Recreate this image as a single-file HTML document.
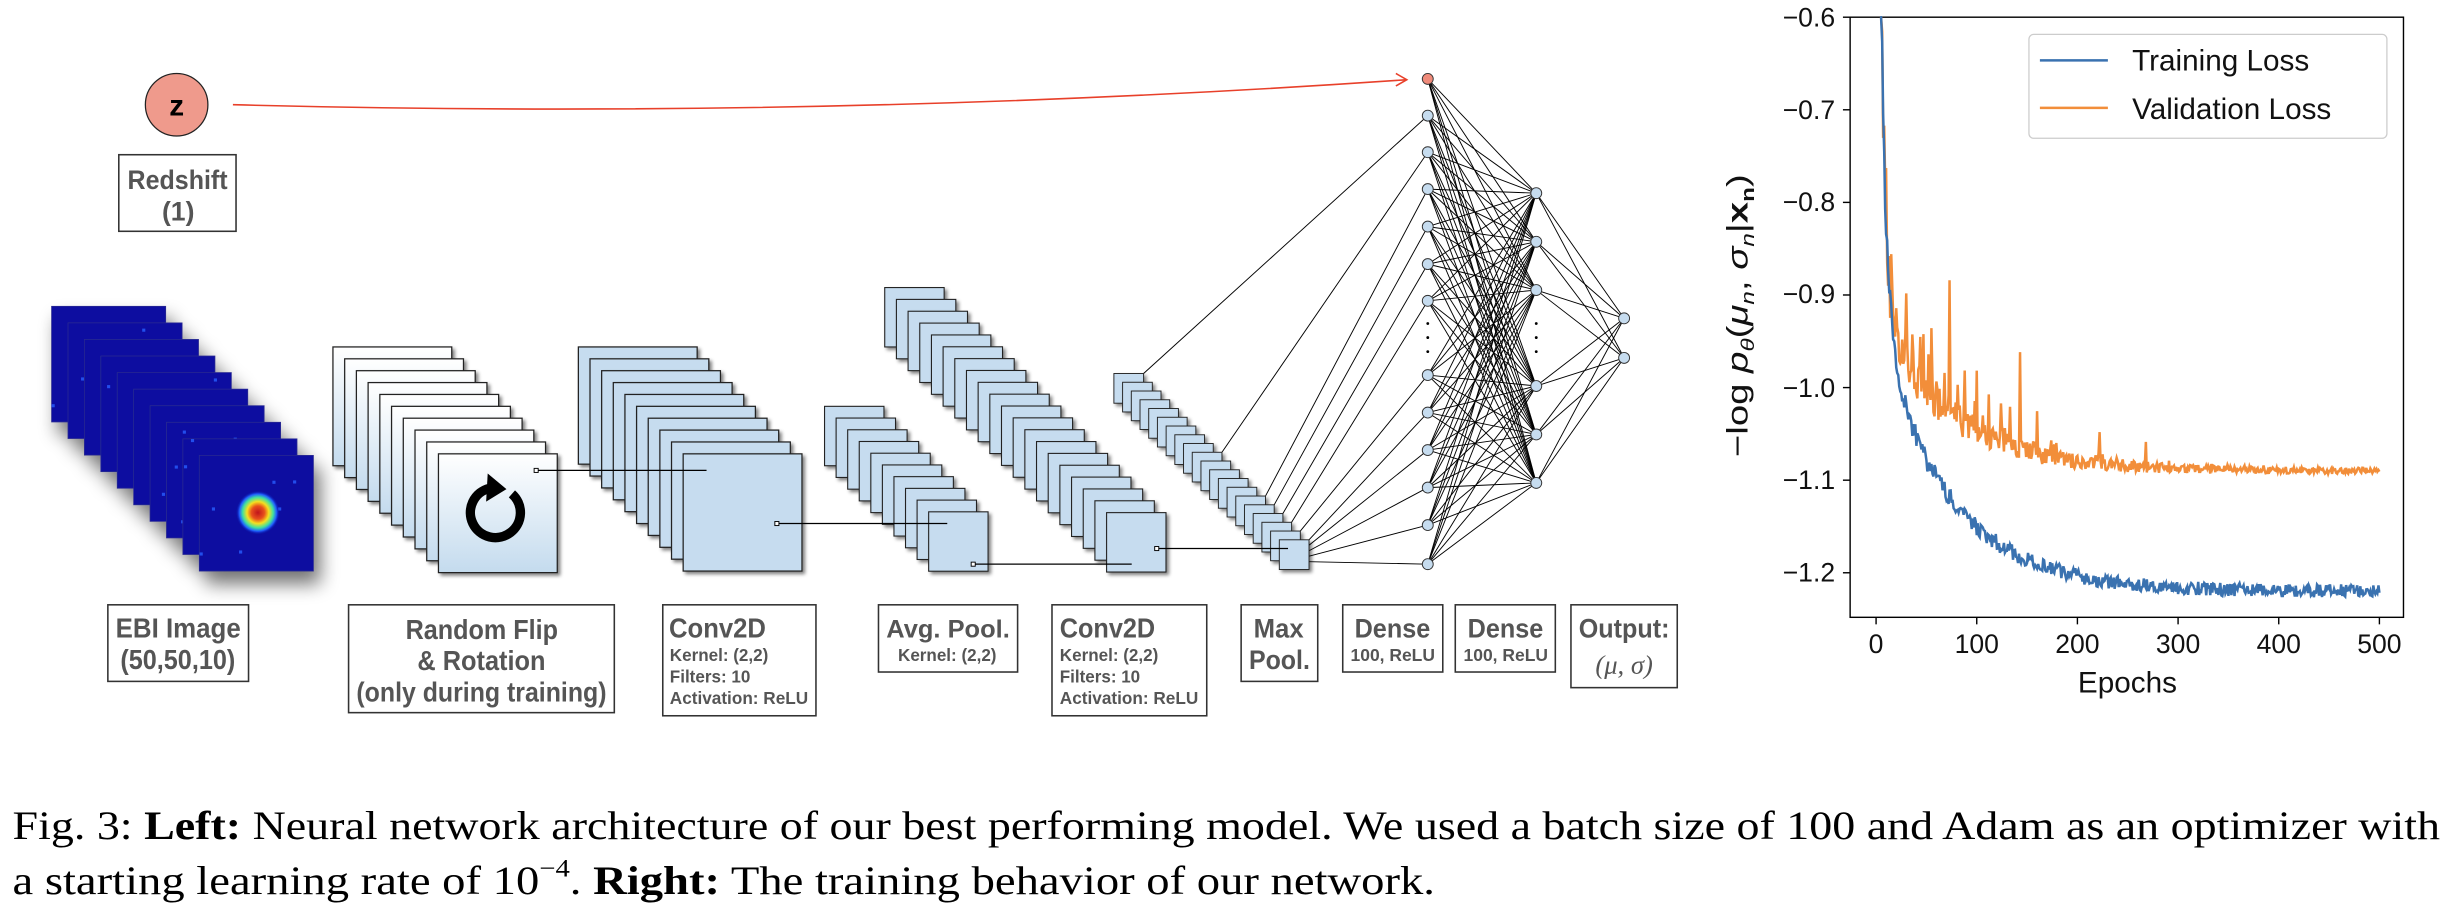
<!DOCTYPE html>
<html><head><meta charset="utf-8"><style>
html,body{margin:0;padding:0;background:#fff;}
svg{display:block;}
.lb{font-family:"Liberation Sans",sans-serif;font-weight:bold;fill:#555;}
.tk{font-family:"Liberation Sans","DejaVu Sans",sans-serif;fill:#111;font-size:17px;}
.cap{font-family:"Liberation Serif",serif;font-size:26px;fill:#000;}
</style></head><body>
<svg id="s" width="2451" height="908" viewBox="0 0 1568 581" preserveAspectRatio="none" xmlns="http://www.w3.org/2000/svg">
<defs>
<linearGradient id="wg" x1="0" y1="0" x2="0" y2="1"><stop offset="0" stop-color="#ffffff"/><stop offset="1" stop-color="#c4dbee"/></linearGradient>
<radialGradient id="blob" cx="0.5" cy="0.5" r="0.5"><stop offset="0" stop-color="#c0141a"/><stop offset="0.3" stop-color="#e8501c"/><stop offset="0.5" stop-color="#f5e020"/><stop offset="0.7" stop-color="#40e0a0"/><stop offset="0.85" stop-color="#2060ff"/><stop offset="1" stop-color="#0a12b0" stop-opacity="0"/></radialGradient>
<filter id="sh" x="-30%" y="-30%" width="170%" height="170%"><feGaussianBlur in="SourceAlpha" stdDeviation="6"/><feOffset dx="4" dy="8"/><feComponentTransfer><feFuncA type="linear" slope="0.55"/></feComponentTransfer><feMerge><feMergeNode/><feMergeNode in="SourceGraphic"/></feMerge></filter>
<filter id="sh2" x="-20%" y="-20%" width="150%" height="150%"><feGaussianBlur in="SourceAlpha" stdDeviation="1.2"/><feOffset dx="1.5" dy="1.5"/><feComponentTransfer><feFuncA type="linear" slope="0.5"/></feComponentTransfer><feMerge><feMergeNode/><feMergeNode in="SourceGraphic"/></feMerge></filter>
</defs>
<g id="net"></g>
<g id="stacks"></g>

<ellipse cx="113" cy="67" rx="20" ry="20" fill="#ef9a8c" stroke="#222" stroke-width="0.8"/>
<text x="113" y="74" text-anchor="middle" font-family="Liberation Sans,sans-serif" font-weight="bold" font-size="19">z</text>
<path d="M149,67 Q525,77 900,51" fill="none" stroke="#e8402a" stroke-width="1"/>
<path d="M893,47 L900,51 L893,55" fill="none" stroke="#e8402a" stroke-width="1"/>

<g fill="none" stroke="#333" stroke-width="1">
<rect x="76" y="99" width="75" height="49"/>
<rect x="69" y="387" width="90" height="49"/>
<rect x="223" y="387" width="170" height="69"/>
<rect x="424" y="387" width="98" height="71"/>
<rect x="562" y="387" width="89" height="43"/>
<rect x="673" y="387" width="99" height="71"/>
<rect x="794" y="387" width="49" height="49"/>
<rect x="859" y="387" width="64" height="43"/>
<rect x="931" y="387" width="64" height="43"/>
<rect x="1005" y="387" width="68" height="53"/>
</g>
<g class="lb">
<text x="81.6" y="121" font-size="17" textLength="64" lengthAdjust="spacingAndGlyphs">Redshift</text>
<text x="114" y="141" font-size="17" text-anchor="middle">(1)</text>
<text x="74" y="408" font-size="18" textLength="80" lengthAdjust="spacingAndGlyphs">EBI Image</text>
<text x="77" y="428" font-size="18" textLength="73.5" lengthAdjust="spacingAndGlyphs">(50,50,10)</text>
<text x="259.5" y="409" font-size="18" textLength="97.5" lengthAdjust="spacingAndGlyphs">Random Flip</text>
<text x="267" y="428.6" font-size="18" textLength="82" lengthAdjust="spacingAndGlyphs">&amp; Rotation</text>
<text x="228" y="449" font-size="18" textLength="160" lengthAdjust="spacingAndGlyphs">(only during training)</text>
<text x="428" y="408" font-size="18" textLength="62" lengthAdjust="spacingAndGlyphs">Conv2D</text>
<text x="428.5" y="423" font-size="11.5" textLength="63" lengthAdjust="spacingAndGlyphs">Kernel: (2,2)</text>
<text x="428.5" y="436.6" font-size="11.5" textLength="51.5" lengthAdjust="spacingAndGlyphs">Filters: 10</text>
<text x="428.5" y="450.5" font-size="11.5" textLength="88.5" lengthAdjust="spacingAndGlyphs">Activation: ReLU</text>
<text x="567" y="408" font-size="16" textLength="79" lengthAdjust="spacingAndGlyphs">Avg. Pool.</text>
<text x="574.5" y="423" font-size="11.5" textLength="63" lengthAdjust="spacingAndGlyphs">Kernel: (2,2)</text>
<text x="678" y="408" font-size="18" textLength="61" lengthAdjust="spacingAndGlyphs">Conv2D</text>
<text x="678" y="423" font-size="11.5" textLength="63" lengthAdjust="spacingAndGlyphs">Kernel: (2,2)</text>
<text x="678" y="436.6" font-size="11.5" textLength="51.4" lengthAdjust="spacingAndGlyphs">Filters: 10</text>
<text x="678" y="450.5" font-size="11.5" textLength="88.6" lengthAdjust="spacingAndGlyphs">Activation: ReLU</text>
<text x="802" y="408" font-size="17" textLength="32" lengthAdjust="spacingAndGlyphs">Max</text>
<text x="799" y="428" font-size="17" textLength="39" lengthAdjust="spacingAndGlyphs">Pool.</text>
<text x="866.6" y="408" font-size="17" textLength="48.4" lengthAdjust="spacingAndGlyphs">Dense</text>
<text x="864" y="423" font-size="11.5" textLength="54" lengthAdjust="spacingAndGlyphs">100, ReLU</text>
<text x="938.9" y="408" font-size="17" textLength="48.4" lengthAdjust="spacingAndGlyphs">Dense</text>
<text x="936.3" y="423" font-size="11.5" textLength="54" lengthAdjust="spacingAndGlyphs">100, ReLU</text>
<text x="1010" y="408" font-size="17" textLength="58" lengthAdjust="spacingAndGlyphs">Output:</text>
</g>
<text x="1039" y="431" text-anchor="middle" font-family="Liberation Serif,serif" font-style="italic" font-size="17" fill="#555">(μ, σ)</text>

<g id="plot">
<rect x="1183.6" y="11" width="354" height="384" fill="none" stroke="#000" stroke-width="0.9"/>
</g>
<g class="tk" text-anchor="end">
<text x="1174" y="17">−0.6</text>
<text x="1174" y="76">−0.7</text>
<text x="1174" y="135">−0.8</text>
<text x="1174" y="194">−0.9</text>
<text x="1174" y="254">−1.0</text>
<text x="1174" y="313">−1.1</text>
<text x="1174" y="372">−1.2</text>
</g>
<g class="tk" text-anchor="middle">
<text x="1200.2" y="418">0</text>
<text x="1264.6" y="418">100</text>
<text x="1329" y="418">200</text>
<text x="1393.4" y="418">300</text>
<text x="1457.8" y="418">400</text>
<text x="1522.2" y="418">500</text>
<text x="1361" y="443" font-size="19">Epochs</text>
</g>
<text transform="translate(1118,202) rotate(-90)" text-anchor="middle" font-family="Liberation Sans,DejaVu Sans,sans-serif" font-size="19" fill="#111" textLength="181" lengthAdjust="spacingAndGlyphs">−log <tspan font-style="italic">p</tspan><tspan font-style="italic" font-size="12" dy="4">θ</tspan><tspan dy="-4">(</tspan><tspan font-style="italic">μ</tspan><tspan font-style="italic" font-size="12" dy="4">n</tspan><tspan dy="-4">, </tspan><tspan font-style="italic">σ</tspan><tspan font-style="italic" font-size="12" dy="4">n</tspan><tspan dy="-4">|</tspan><tspan font-weight="bold">x</tspan><tspan font-weight="bold" font-size="12" dy="4">n</tspan><tspan dy="-4">)</tspan></text>
<rect x="1298" y="22" width="229" height="66.5" rx="3" fill="#fff" fill-opacity="0.85" stroke="#ccc" stroke-width="0.8"/>
<line x1="1305" y1="38.6" x2="1348.5" y2="38.6" stroke="#3a72b0" stroke-width="1.6"/>
<line x1="1305" y1="69" x2="1348.5" y2="69" stroke="#f28e3a" stroke-width="1.6"/>
<text x="1364" y="45" font-family="Liberation Sans,sans-serif" font-size="19" fill="#111">Training Loss</text>
<text x="1364" y="76" font-family="Liberation Sans,sans-serif" font-size="19" fill="#111">Validation Loss</text>

<text class="cap" x="8" y="537" textLength="1553" lengthAdjust="spacingAndGlyphs">Fig. 3: <tspan font-weight="bold">Left:</tspan> Neural network architecture of our best performing model. We used a batch size of 100 and Adam as an optimizer with</text>
<text class="cap" x="8" y="572" textLength="910" lengthAdjust="spacingAndGlyphs">a starting learning rate of 10<tspan font-size="16" dy="-11">−4</tspan><tspan dy="11">. </tspan><tspan font-weight="bold">Right:</tspan> The training behavior of our network.</text>
</svg>
<script>
(function(){
var NS="http://www.w3.org/2000/svg";
function el(p,t,a){var e=document.createElementNS(NS,t);for(var k in a)e.setAttribute(k,a[k]);p.appendChild(e);return e;}
var st=document.getElementById("stacks"), net=document.getElementById("net"), plot=document.getElementById("plot");
var seed=7;function rnd(){seed=(seed*16807)%2147483647;return seed/2147483647;}
var g=el(st,"g",{filter:"url(#sh)"});
for(var i=0;i<10;i++){var x=33+i*10.5,y=196+i*10.6;
 el(g,"rect",{x:x,y:y,width:73,height:74,fill:"#0a0fa0",stroke:"#2a2a90","stroke-width":0.5});
 for(var k=0;k<6;k++)el(g,"rect",{x:x+rnd()*68,y:y+rnd()*68,width:2,height:2,fill:"#2a5cff",opacity:0.8});
}
el(g,"circle",{cx:165,cy:328,r:14,fill:"url(#blob)"});
function stack(n,x0,y0,dx,dy,w,h,fill,sw){var gg=el(st,"g",{});
 for(var i=0;i<n;i++)el(gg,"rect",{x:x0+i*dx,y:y0+i*dy,width:w,height:h,fill:fill,stroke:"#222","stroke-width":sw,filter:"url(#sh2)"});}
stack(10,213,222,7.5,7.6,76,76,"url(#wg)",0.8);
stack(10,370,222,7.45,7.6,76,75,"#c6dcef",0.8);
stack(10,527.5,260,7.4,7.5,38,38,"#c6dcef",0.7);
stack(20,566,184,7.47,7.58,38,38,"#c6dcef",0.7);
stack(20,712.6,239,5.57,5.6,19,19,"#c6dcef",0.6);
el(st,"path",{d:"M327.5,316 A16,16 0 1 1 313,312.5",fill:"none",stroke:"#000","stroke-width":6});
el(st,"path",{d:"M312,303 L324,313 L311,321 Z",fill:"#000"});
function conn(x1,y1,x2,y2){el(st,"line",{x1:x1,y1:y1,x2:x2,y2:y2,stroke:"#000","stroke-width":0.8});el(st,"rect",{x:x1-1.3,y:y1-1.3,width:2.6,height:2.6,fill:"#fff",stroke:"#000","stroke-width":0.6});}
conn(343,301,452,301);conn(497,335,606,335);conn(622.6,361,724,361);conn(740,351,824,351);
var L1y=[74,97.4,121,145,169,192.5,240,264,288,312,336,361],L1x=913.4;
var L2y=[123.6,154.7,185.6,247,278,309],L2x=982.8;
var Oy=[203.7,229],Ox=1039;
var all1=[50.5].concat(L1y);
var lg=el(net,"g",{stroke:"#000","stroke-width":0.6});
all1.forEach(function(a){L2y.forEach(function(b){el(lg,"line",{x1:L1x,y1:a,x2:L2x,y2:b});});});
L2y.forEach(function(a){Oy.forEach(function(b){el(lg,"line",{x1:L2x,y1:a,x2:Ox,y2:b});});});
var fidx=[0,9,14,15,16,17,18,19,19,19,19,19];
L1y.forEach(function(y,i){var f=fidx[i];var fx=712.6+f*5.57+19,fy=239+f*5.6;if(i>=8){fy=fy+(i-7)*3.5;}el(lg,"line",{x1:fx,y1:fy,x2:L1x,y2:y});});
var ng=el(st,"g",{});
el(ng,"circle",{cx:L1x,cy:50.5,r:3.5,fill:"#ef8a7a",stroke:"#333","stroke-width":0.6});
L1y.forEach(function(y){el(ng,"circle",{cx:L1x,cy:y,r:3.5,fill:"#c6dcef",stroke:"#333","stroke-width":0.6});});
L2y.forEach(function(y){el(ng,"circle",{cx:L2x,cy:y,r:3.5,fill:"#c6dcef",stroke:"#333","stroke-width":0.6});});
Oy.forEach(function(y){el(ng,"circle",{cx:Ox,cy:y,r:3.5,fill:"#c6dcef",stroke:"#333","stroke-width":0.6});});
[207,216,225].forEach(function(y){el(ng,"circle",{cx:L1x,cy:y,r:0.9,fill:"#000"});el(ng,"circle",{cx:L2x,cy:y,r:0.9,fill:"#000"});});
var tg=el(plot,"g",{stroke:"#000","stroke-width":0.9});
for(var v=0;v<7;v++){var yy=11+v*59.25;el(tg,"line",{x1:1179,y1:yy,x2:1183.6,y2:yy});}
for(var e=0;e<=500;e+=100){var xx=1200.2+e*0.644;el(tg,"line",{x1:xx,y1:395,x2:xx,y2:399.5});}
function X(e){return 1200.2+e*0.644;} function Y(v){return 11+(-0.6-v)*592.5;}
var tp=[],vp=[];seed=12345;
var spikes={73:0.14,55:0.08,143:0.1,68:0.05,100:0.07,112:0.05,133:0.04,160:0.04,222:0.03,268:0.03,30:0.05,47:0.05,88:0.06,124:0.05,15:0.03};
for(var e=4;e<=500;e++){
 var t=-1.22+0.29*Math.exp(-e/70)+0.4*Math.exp(-e/8)+1.5*Math.exp(-e/2.5);
 t+=(rnd()-0.5)*0.014*(1+Math.exp(-e/100));
 var v=-1.09+0.18*Math.exp(-e/70)+0.4*Math.exp(-e/6)+1.5*Math.exp(-e/2.5);
 v+=(rnd()-0.5)*(0.06*Math.exp(-e/110)+0.006)+(rnd()<0.25?rnd()*0.05*Math.exp(-e/120):0);
 if(spikes[e])v+=spikes[e];
 tp.push(X(e).toFixed(1)+","+Math.max(Y(t),11).toFixed(1));
 vp.push(X(e).toFixed(1)+","+Math.max(Y(v),11).toFixed(1));
}
el(plot,"polyline",{points:vp.join(" "),fill:"none",stroke:"#f28e3a","stroke-width":1.6});
el(plot,"polyline",{points:tp.join(" "),fill:"none",stroke:"#3a72b0","stroke-width":1.6});
})();
</script>
</body></html>
